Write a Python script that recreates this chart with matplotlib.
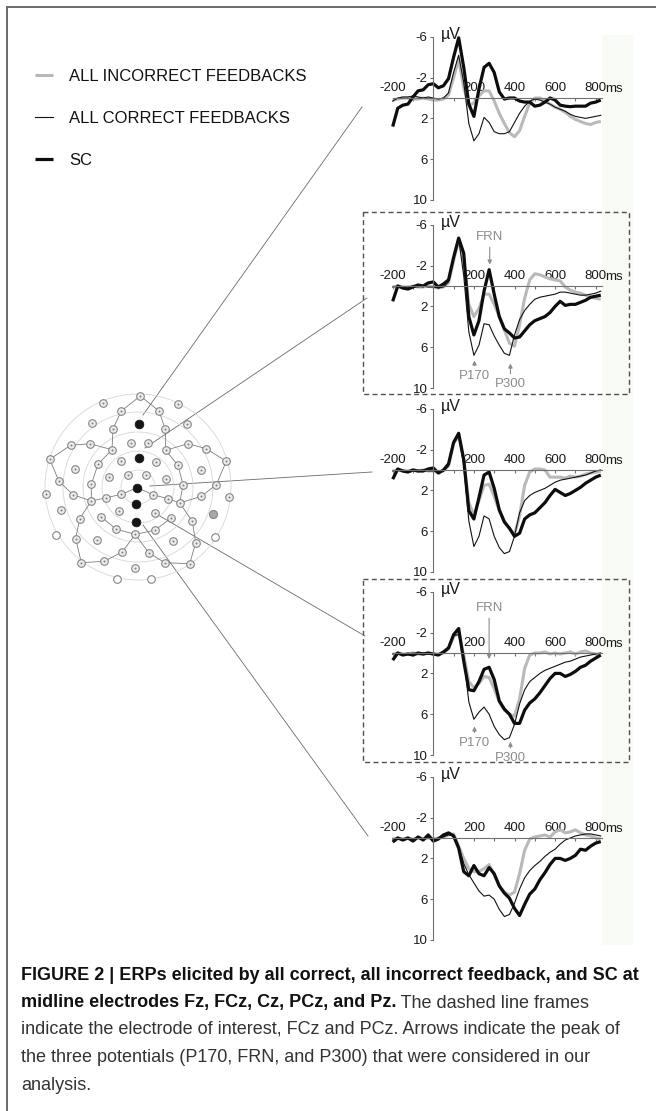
import numpy as np
import matplotlib
matplotlib.use("Agg")
import matplotlib.pyplot as plt
from matplotlib.patches import Rectangle, Circle

plt.rcParams["font.family"] = ["Liberation Sans", "DejaVu Sans"]

# ---------------- data ----------------
TIME_MS = np.arange(-200, 826, 25)

# Fz
FZ_INC = [0.2, 0.1, 0.0, 0.0, 0.1, 0.1, 0.0, 0.1, 0.2, 0.2, 0.1, -0.3, -2.0, -3.8, -1.0, 0.7, 0.5, -0.2, -0.7, -0.7,
          0.3, 1.5, 2.5, 3.4, 3.8, 3.2, 1.8, 0.5, 0.0, 0.0, 0.3, 0.6, 0.9, 1.1, 1.4, 1.8, 2.1, 2.3, 2.5, 2.6, 2.4, 2.3]
FZ_COR = [0.3, 0.0, -0.1, -0.1, -0.2, -0.1, 0.0, -0.1, 0.0, 0.1, 0.0, -0.5, -2.5, -4.2, -1.5, 2.5, 4.2, 3.5, 1.9, 2.4,
          3.3, 3.5, 3.5, 3.3, 2.4, 1.5, 0.8, 0.3, 0.1, 0.2, 0.4, 0.6, 0.9, 1.1, 1.3, 1.6, 1.8, 1.9, 2.0, 1.9, 1.8, 1.7]
FZ_SC = [2.8, 1.0, 0.7, 0.6, -0.1, -0.7, -0.8, -1.3, -1.4, -1.0, -1.2, -1.9, -4.0, -5.9, -3.0, 0.6, 1.8, -0.9, -3.0, -3.4,
         -2.5, -0.6, 0.1, 0.0, 0.0, 0.3, 0.4, 0.4, 0.8, 0.7, 0.4, 0.0, 0.2, 0.7, 0.8, 0.85, 0.8, 0.8, 0.8, 0.5, 0.4, 0.2]

# FCz
FCZ_INC = [0.1, 0.0, 0.1, 0.1, 0.0, 0.1, 0.1, 0.0, 0.1, 0.2, 0.1, -0.3, -2.5, -4.5, -2.5, 1.8, 3.0, 2.2, 0.8, 0.8,
           1.8, 3.0, 4.3, 5.6, 5.9, 3.8, 1.2, -0.6, -1.2, -1.1, -0.9, -0.7, -0.6, -0.5, 0.1, 0.4, 0.6, 0.7, 0.9, 1.1, 1.2, 1.3]
FCZ_COR = [0.1, 0.0, 0.1, 0.1, 0.0, 0.1, 0.0, 0.1, 0.1, 0.2, 0.1, -0.4, -2.8, -4.6, -1.0, 4.5, 6.8, 5.8, 3.7, 3.8,
           4.9, 5.8, 6.6, 6.8, 4.8, 3.3, 2.4, 1.8, 1.3, 1.1, 1.0, 0.9, 0.8, 0.6, 0.6, 0.7, 0.8, 0.9, 0.9, 0.8, 0.7, 0.5]
FCZ_SC = [1.5, 0.0, 0.2, 0.3, 0.1, -0.1, 0.0, -0.3, -0.4, 0.1, -0.2, -0.6, -2.8, -4.7, -3.2, 3.0, 4.8, 3.4, 0.5, -1.6,
          0.8, 3.0, 4.2, 4.6, 5.1, 5.0, 4.4, 3.8, 3.4, 3.2, 3.0, 2.6, 2.0, 1.5, 1.9, 1.8, 1.8, 1.6, 1.4, 1.1, 1.0, 0.9]

# Cz
CZ_INC = [0.1, 0.0, 0.1, 0.1, 0.0, 0.1, 0.0, 0.1, 0.1, 0.2, 0.1, -0.4, -2.6, -3.3, -1.0, 3.2, 4.4, 3.0, 1.5, 1.4,
          2.6, 4.0, 5.0, 5.8, 6.3, 4.5, 1.5, 0.2, -0.1, -0.1, 0.0, 0.7, 0.7, 0.7, 0.8, 0.6, 0.7, 0.6, 0.4, 0.3, 0.2, 0.1]
CZ_COR = [0.1, 0.0, 0.1, 0.1, 0.0, 0.1, 0.0, 0.1, 0.1, 0.2, 0.1, -0.4, -2.6, -3.4, -0.5, 5.0, 7.5, 6.5, 4.5, 4.8,
          6.5, 7.6, 8.2, 8.0, 6.5, 4.2, 3.0, 2.5, 2.2, 2.0, 1.8, 1.5, 1.2, 1.0, 0.9, 0.8, 0.7, 0.6, 0.5, 0.3, 0.1, 0.0]
CZ_SC = [0.9, -0.1, 0.1, 0.2, 0.0, 0.1, 0.1, -0.1, -0.2, 0.3, 0.0, -0.6, -2.7, -3.6, -1.0, 4.0, 4.8, 2.7, 0.5, 0.2,
         1.8, 3.9, 5.1, 5.7, 6.5, 6.2, 4.8, 4.4, 4.2, 3.7, 3.2, 2.5, 1.9, 2.2, 2.5, 2.3, 2.0, 1.7, 1.3, 1.0, 0.7, 0.5]

# PCz
PCZ_INC = [0.1, 0.0, 0.1, 0.1, 0.0, 0.1, 0.1, 0.0, 0.1, 0.1, 0.0, -0.4, -1.6, -2.0, 0.2, 2.8, 3.4, 3.0, 2.3, 2.4,
           3.5, 4.8, 5.6, 6.0, 6.2, 4.5, 1.5, 0.2, 0.0, 0.0, -0.1, 0.1, 0.0, 0.1, 0.0, -0.1, 0.1, -0.1, -0.2, 0.0, 0.1, 0.1]
PCZ_COR = [0.1, 0.0, 0.1, 0.1, 0.0, 0.1, 0.0, 0.1, 0.1, 0.1, 0.0, -0.4, -1.7, -1.8, 0.5, 4.8, 6.5, 5.8, 5.3, 6.0,
           7.2, 8.0, 8.5, 8.3, 7.0, 5.0, 3.6, 2.8, 2.4, 2.0, 1.7, 1.5, 1.3, 1.1, 0.9, 0.8, 0.6, 0.4, 0.3, 0.2, 0.1, 0.0]
PCZ_SC = [0.7, 0.0, 0.2, 0.1, 0.2, 0.0, 0.1, 0.0, 0.1, 0.2, -0.1, -0.5, -1.8, -2.4, 0.8, 3.6, 3.7, 2.8, 1.6, 1.4,
          2.6, 4.7, 5.5, 6.0, 6.9, 6.9, 5.6, 4.9, 4.5, 3.9, 3.2, 2.5, 2.0, 2.0, 2.3, 2.1, 1.8, 1.4, 1.2, 0.8, 0.5, 0.2]

# Pz
PZ_INC = [0.1, 0.0, 0.1, 0.0, 0.1, 0.0, 0.1, 0.0, 0.1, 0.0, -0.1, -0.3, -0.4, 0.8, 2.0, 3.0, 3.3, 3.3, 3.0, 2.6,
          3.6, 4.7, 5.3, 5.6, 5.3, 3.5, 1.2, 0.1, -0.1, -0.2, -0.3, -0.1, -0.6, -0.8, -0.5, -0.6, -0.8, -0.5, -0.3, -0.2, 0.0, 0.1]
PZ_COR = [0.1, 0.0, 0.1, 0.0, 0.1, 0.0, 0.1, 0.0, 0.1, 0.0, -0.1, -0.3, -0.3, 0.8, 2.5, 3.6, 4.4, 5.2, 5.7, 5.6,
          6.0, 7.0, 7.7, 7.5, 6.4, 5.0, 3.9, 3.2, 2.7, 2.3, 1.8, 1.4, 1.1, 0.6, 0.2, 0.0, -0.2, -0.3, -0.4, -0.4, -0.3, -0.2]
PZ_SC = [0.4, 0.0, 0.2, 0.0, 0.3, -0.1, 0.2, -0.3, 0.3, 0.1, -0.3, -0.5, -0.2, 1.0, 3.3, 3.7, 2.7, 3.5, 3.7, 2.9,
         3.5, 4.7, 5.4, 5.9, 6.9, 7.6, 6.5, 5.5, 5.0, 4.1, 3.4, 2.6, 2.0, 2.0, 2.2, 2.0, 1.7, 1.1, 1.2, 0.8, 0.5, 0.35]

PANEL_DATA = [(FZ_INC, FZ_COR, FZ_SC), (FCZ_INC, FCZ_COR, FCZ_SC), (CZ_INC, CZ_COR, CZ_SC),
              (PCZ_INC, PCZ_COR, PCZ_SC), (PZ_INC, PZ_COR, PZ_SC)]
SERIES_LABELS = ["ALL INCORRECT FEEDBACKS", "ALL CORRECT FEEDBACKS", "SC"]
Y_TICKS = [-6, -2, 2, 6, 10]
X_TICKS = list(range(-200, 801, 100))
X_TICK_LABELS = ["-200", "", "", "", "200", "", "400", "", "600", "", "800"]

# peak labels (panel index, label, latency ms, arrow tip uV, text uV)
PEAK_LABELS = [
    (1, "FRN", 278, -2.1, -4.8), (1, "P170", 203, 7.3, 8.8), (1, "P300", 380, 7.6, 9.6),
    (3, "FRN", 275, 0.6, -4.4), (3, "P170", 203, 7.2, 8.8), (3, "P300", 380, 8.7, 10.3),
]

# electrode net (head coordinates, centre = Cz ring centre)
ELEC_X = np.array([2.3, -35, 40, -16.7, 21, -45.7, 49, -25, 27.3, -67.3, -48.3, -26, -7.3, 10, 27.7, 50, 68.3,
                   -88.3, 88.3, -63.3, -40, -17.3, 17.7, 40, 62.7, -79, -46.7, -29, -10, 8.3, 28.3, 45, 78.3,
                   -92.3, -65, -31.7, -16.7, 15, 30, 63.3, 91, -46.7, 41.7, -77.3, -58.3, -36.7, -19, 16.7, 33.3,
                   54.3, -62.3, -41, -21.7, -2.7, 16.7, 35, 57.7, -15.7, 10.7, -56.7, -34, -3.3, 26.7, 51.7,
                   -81.7, 76.7, -21, 13.3,
                   75,
                   1, 1, -0.7, -1.7, -2.3])
ELEC_Y = np.array([91, 84.3, 82.7, 76, 76, 64, 62.7, 58.3, 57.7, 41.7, 43.3, 37.3, 44.3, 44.3, 36.7, 43.3, 38.3,
                   27.7, 25.7, 18.3, 22.7, 25.7, 25, 21.7, 16.7, 5.7, 2.7, 10, 12.3, 12.3, 8.3, 2.3, 2.3,
                   -6.7, -7.7, -10.7, -7.3, -7.7, -11.7, -9.3, -10, -14, -16, -22.7, -31.7, -30, -24.3, -26, -31,
                   -34.3, -51.7, -53.3, -42.3, -47.3, -43.3, -54, -55.7, -65, -65.7, -75.7, -74.3, -81, -75.7, -76.7,
                   -47.7, -50, -92, -92,
                   -26.7,
                   63.3, 29.3, -0.7, -17.3, -34.7])
ELEC_KIND = np.array(["n"] * 64 + ["h"] * 4 + ["g"] + ["k"] * 5)
ELEC_CHAINS = [[3, 0, 4], [3, 7, 11], [4, 8, 14], [17, 9, 10, 11], [14, 15, 16, 18],
               [11, 20, 26, 41], [14, 23, 31, 42], [17, 25, 34, 41], [18, 32, 39, 42],
               [41, 44, 50, 59], [42, 49, 56, 63], [59, 60, 57, 53, 58, 62, 63],
               [41, 35, 36, 71], [71, 37, 38, 42], [45, 52, 53, 54, 48]]
RING_RADII = [17, 36, 55, 75, 93]

CAPTION_BOLD = ["FIGURE 2 | ERPs elicited by all correct, all incorrect feedback, and SC at",
                "midline electrodes Fz, FCz, Cz, PCz, and Pz."]
CAPTION_REST = [" The dashed line frames",
                "indicate the electrode of interest, FCz and PCz. Arrows indicate the peak of",
                "the three potentials (P170, FRN, and P300) that were considered in our",
                "analysis."]

# ---------------- layout ----------------
W, H = 656, 1111
fig = plt.figure(figsize=(W / 100, H / 100), dpi=100)
fig.patch.set_facecolor("white")


def px_axes(left, top, right, bottom):
    return fig.add_axes([left / W, 1 - bottom / H, (right - left) / W, (bottom - top) / H])


bg = px_axes(0, 0, W, H)
bg.set_xlim(0, W)
bg.set_ylim(H, 0)
bg.axis("off")

# frame of the figure
bg.plot([7, 7], [7, H], color="#6a6a6a", lw=1.4)
bg.plot([7, W], [7, 7], color="#6a6a6a", lw=1.4)
bg.add_patch(Rectangle((602, 35), 31, 910, fc="#f8faf5", ec="none", zorder=0))

# dashed frames around FCz and PCz
for top, bottom in [(212, 394), (579, 762)]:
    bg.add_patch(Rectangle((363, top), 266, bottom - top, fill=False, ec="#505050",
                           lw=1.0, ls=(0, (3.6, 2.4))))

# connector lines electrode -> panel
CONNECTORS = [((143, 415), (362, 107)), ((145, 448), (367, 298)), ((150, 486), (372, 472)),
              ((153, 512), (365, 636)), ((143, 525), (368, 836))]
for (x0, y0), (x1, y1) in CONNECTORS:
    bg.plot([x0, x1], [y0, y1], color="#6a6a6a", lw=0.6)

# ---------------- ERP panels ----------------
X0, PX_MS, PX_UV = 433.3, 0.203, 10.2
ZERO_Y = [98, 286, 470, 653, 838]
INC_C, COR_C, SC_C = "#b9b9b9", "#111111", "#0d0d0d"
AXIS_C = "#707070"
panel_axes = []
handles = None
for i, (inc, cor, sc) in enumerate(PANEL_DATA):
    z = ZERO_Y[i]
    ax = px_axes(X0 - 200 * PX_MS, z - 6 * PX_UV, X0 + 830 * PX_MS, z + 10 * PX_UV)
    ax.set_xlim(-200, 830)
    ax.set_ylim(10, -6)
    ax.patch.set_visible(False)
    l1, = ax.plot(TIME_MS, inc, color=INC_C, lw=2.2, solid_capstyle="butt", clip_on=False)
    l3, = ax.plot(TIME_MS, sc, color=SC_C, lw=2.3, solid_capstyle="butt", clip_on=False)
    l2, = ax.plot(TIME_MS, cor, color=COR_C, lw=0.8, clip_on=False)
    if handles is None:
        handles = [l1, l2, l3]

    for s in ("top", "right"):
        ax.spines[s].set_visible(False)
    ax.spines["left"].set_position(("data", 0))
    ax.spines["bottom"].set_position(("data", 0))
    for s in ("left", "bottom"):
        ax.spines[s].set_color(AXIS_C)
        ax.spines[s].set_linewidth(0.8)

    ax.set_yticks(Y_TICKS)
    ax.set_yticklabels([str(v) for v in Y_TICKS])
    ax.set_xticks(X_TICKS)
    ax.set_xticklabels(X_TICK_LABELS)
    ax.tick_params(axis="y", direction="out", length=2.5, width=0.8, color=AXIS_C,
                   labelsize=9.5, pad=1.5, labelcolor="#1a1a1a")
    ax.tick_params(axis="x", direction="out", length=2, width=0.8, color=AXIS_C,
                   labelsize=9.5, pad=-13.5, labelcolor="#1a1a1a")
    ax.annotate("ms", xy=(800, 0), xytext=(7.0, 2.2), textcoords="offset points",
                ha="left", va="bottom", fontsize=9.5, color="#1a1a1a")
    ax.text(35, -6.2, "µV", fontsize=11.5, ha="left", va="center", color="#1a1a1a")
    panel_axes.append(ax)

for pi, label, t, tip, ty in PEAK_LABELS:
    panel_axes[pi].annotate(label, xy=(t, tip), xytext=(t, ty), ha="center", va="center",
                            fontsize=9.5, color="#8c8c8c",
                            arrowprops=dict(arrowstyle="-|>", color="#8c8c8c", lw=0.8,
                                            mutation_scale=6, shrinkA=1, shrinkB=0))

# ---------------- electrode map ----------------
head = px_axes(38, 387, 238, 587)
head.set_xlim(-100, 100)
head.set_ylim(-100, 100)
head.axis("off")
for r in RING_RADII:
    head.add_patch(Circle((0, 0), r, fill=False, ec="#d6d6d6", lw=0.6))
for chain in ELEC_CHAINS:
    head.plot(ELEC_X[chain], ELEC_Y[chain], color="#7d7d7d", lw=0.6, zorder=2)
m = ELEC_KIND == "n"
head.scatter(ELEC_X[m], ELEC_Y[m], s=30, fc="#ececec", ec="#858585", lw=0.8, zorder=3)
head.scatter(ELEC_X[m], ELEC_Y[m], s=2, c="#7a7a7a", lw=0, zorder=4)
m = ELEC_KIND == "h"
head.scatter(ELEC_X[m], ELEC_Y[m], s=30, fc="white", ec="#858585", lw=0.8, zorder=3)
m = ELEC_KIND == "g"
head.scatter(ELEC_X[m], ELEC_Y[m], s=34, fc="#a8a8a8", ec="#888888", lw=0.8, zorder=3)
m = ELEC_KIND == "k"
head.scatter(ELEC_X[m], ELEC_Y[m], s=40, fc="#151515", ec="#151515", lw=0.5, zorder=5)

# ---------------- legend ----------------
fig.legend(handles=handles, labels=SERIES_LABELS, loc="upper left",
           bbox_to_anchor=(35 / W, 1 - 69 / H), frameon=False, fontsize=12,
           handlelength=1.1, handletextpad=0.95, labelspacing=1.62, borderpad=0,
           borderaxespad=0, labelcolor="#111111")

# ---------------- caption ----------------
line_y = [975, 1003, 1030, 1058, 1085]
cap_texts = [bg.text(21, line_y[0], CAPTION_BOLD[0], fontsize=13, fontweight="bold",
                     va="center", ha="left", color="#111111")]
b2 = bg.text(21, line_y[1], CAPTION_BOLD[1], fontsize=13, fontweight="bold",
             va="center", ha="left", color="#111111")
cap_texts.append(b2)
cap_texts.append(bg.annotate(CAPTION_REST[0], xy=(1, 0.5), xycoords=b2, va="center", ha="left",
                             fontsize=13, color="#333333"))
for k, line in enumerate(CAPTION_REST[1:]):
    cap_texts.append(bg.text(21, line_y[k + 2], line, fontsize=13, va="center",
                             ha="left", color="#333333"))

# fit the first caption line to the width it takes in the figure (21 -> 637 px)
renderer = fig.canvas.get_renderer()
width = cap_texts[0].get_window_extent(renderer=renderer).width
size = 13 * 616 / width
for t in cap_texts:
    t.set_fontsize(size)

fig.savefig("out.png", dpi=100, facecolor="white")
